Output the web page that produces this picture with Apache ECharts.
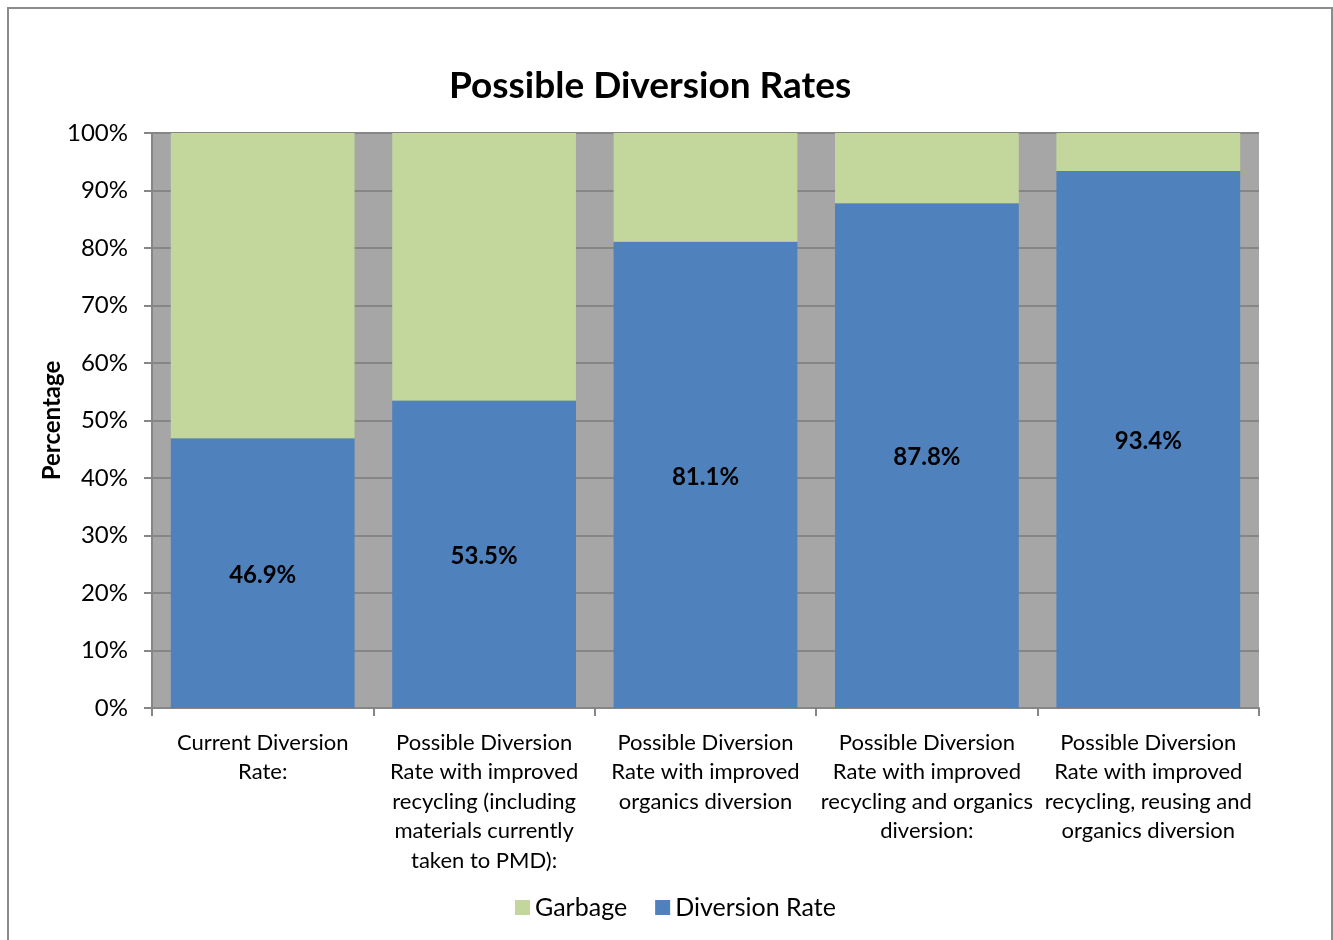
<!DOCTYPE html>
<html><head><meta charset="utf-8">
<script src="https://cdn.jsdelivr.net/npm/echarts@6/dist/echarts.min.js"></script>
<style>html,body{margin:0;padding:0;background:#fff}#c{width:1333px;height:940px}</style>
</head><body><div id="c"></div>
<script>
const categories = [
  "Current Diversion\nRate:",
  "Possible Diversion\nRate with improved\nrecycling (including\nmaterials currently\ntaken to PMD):",
  "Possible Diversion\nRate with improved\norganics diversion",
  "Possible Diversion\nRate with improved\nrecycling and organics\ndiversion:",
  "Possible Diversion\nRate with improved\nrecycling, reusing and\norganics diversion"
];
const diversionRate = [46.9, 53.5, 81.1, 87.8, 93.4];
const garbage = [53.1, 46.5, 18.9, 12.2, 6.6];
const yTicks = [0, 10, 20, 30, 40, 50, 60, 70, 80, 90, 100];

const FONT = 'Lato, "Open Sans", sans-serif';
const chart = echarts.init(document.getElementById('c'));
chart.setOption({
  animation: false,
  textStyle: { fontFamily: FONT },
  title: {
    text: 'Possible Diversion Rates', left: 444, top: 63,
    textStyle: { fontFamily: FONT, fontSize: 37, fontWeight: 'bold', color: '#000' }
  },
  graphic: [{
    type: 'rect', shape: { x: 8, y: 8, width: 1324, height: 940 },
    style: { fill: 'none', stroke: '#8c8c8c', lineWidth: 2 }, silent: true, z: -10
  }],
  legend: {
    bottom: 15, left: 510, itemWidth: 15, itemHeight: 15, itemGap: 28,
    icon: 'rect',
    textStyle: { fontFamily: FONT, fontSize: 25, color: '#000' },
    data: ['Garbage', 'Diversion Rate']
  },
  grid: {
    left: 152, right: 74, top: 133, bottom: 232,
    show: true, backgroundColor: '#A6A6A6', borderWidth: 0
  },
  xAxis: {
    type: 'category', data: categories,
    axisLine: { lineStyle: { color: '#868686', width: 2 } },
    axisTick: { show: true, length: 8, alignWithLabel: false, lineStyle: { color: '#868686', width: 2 } },
    axisLabel: { interval: 0, fontFamily: FONT, fontSize: 22, color: '#000', lineHeight: 29.5, margin: 20 }
  },
  yAxis: {
    type: 'value', min: 0, max: 100, interval: 10,
    name: 'Percentage', nameLocation: 'middle', nameGap: 88, nameRotate: 90,
    nameMoveOverlap: false,
    nameTextStyle: { fontFamily: FONT, fontSize: 24, fontWeight: 'bold', color: '#000' },
    axisLine: { show: true, lineStyle: { color: '#868686', width: 2 } },
    axisTick: { show: true, length: 8, lineStyle: { color: '#868686', width: 2 } },
    axisLabel: {
      fontFamily: FONT, fontSize: 24, color: '#000', margin: 24,
      formatter: v => yTicks.includes(v) ? v + '%' : ''
    },
    splitLine: { show: true, lineStyle: { color: '#868686', width: 2 } }
  },
  series: [
    {
      name: 'Diversion Rate', type: 'bar', stack: 'total', data: diversionRate,
      barCategoryGap: '17%',
      itemStyle: { color: '#4F81BD' },
      label: {
        show: true, position: 'inside', offset: [0, 2], formatter: p => p.value.toFixed(1) + '%',
        fontFamily: FONT, fontSize: 24, fontWeight: 'bold', color: '#000'
      }
    },
    {
      name: 'Garbage', type: 'bar', stack: 'total', data: garbage,
      barCategoryGap: '17%',
      itemStyle: { color: '#C3D69B' }
    }
  ]
});
</script></body></html>
